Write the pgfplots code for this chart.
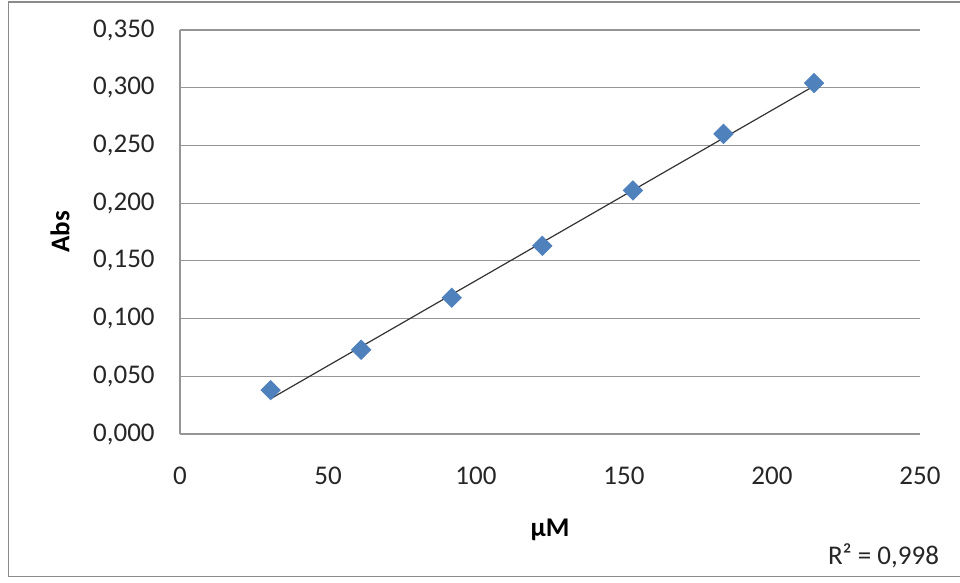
\documentclass[border=0pt]{standalone}
\usepackage{pgfplots}
\pgfplotsset{compat=1.18}
\usepackage{fontspec}
\setmainfont{Carlito}
\definecolor{ptblue}{HTML}{4F81BD}
\definecolor{gridgray}{HTML}{959595}
\definecolor{framegray}{HTML}{8A8A8A}
\begin{document}
\begin{tikzpicture}
\path[use as bounding box] (0,0) rectangle (480pt,291.5pt);
\draw[framegray, line width=0.9pt] (482pt,290.6pt) -- (4.2pt,290.6pt) -- (4.2pt,3.2pt) -- (482pt,3.2pt);
\begin{axis}[
  at={(90pt,74.5pt)}, anchor=south west,
  scale only axis, width=370pt, height=202pt,
  xmin=0, xmax=250, ymin=0, ymax=0.35,
  xtick={0,50,100,150,200,250},
  ytick={0,0.05,0.1,0.15,0.2,0.25,0.3,0.35},
  axis lines*=left,
  axis line style={gridgray, line width=0.6pt, -},
  ymajorgrids, grid style={gridgray, line width=0.6pt},
  major tick length=0pt,
  tick label style={font=\fontsize{13.5}{16}\selectfont, text=black!85},
  yticklabel style={anchor=east, inner sep=0pt, xshift=-12.5pt,
    /pgf/number format/.cd, fixed, fixed zerofill, precision=3, use comma},
  xticklabel style={anchor=center, inner sep=0pt, yshift=-21pt},
  /pgf/number format/assume math mode=true,
  clip=false,
]
\addplot[only marks, mark=square*, mark size=3.4pt, mark options={rotate=45, fill=ptblue, draw=ptblue}]
  coordinates {(30.6,0.038) (61.2,0.073) (91.8,0.118) (122.4,0.163) (153.0,0.211) (183.6,0.260) (214.2,0.304)};
\addplot[black!80, line width=0.6pt] coordinates {(30.6,0.0305) (214.2,0.3015)};
\node[font=\fontsize{13.5}{16}\selectfont\bfseries, rotate=90, anchor=center] at ([xshift=-60pt]axis description cs:0,0.5) {Abs};
\node[font=\fontsize{13.5}{16}\selectfont\bfseries, anchor=center] at ([yshift=-48pt]axis description cs:0.5,0) {µM};
\node[font=\fontsize{13.5}{16}\selectfont, anchor=base east, text=black!85] at ([xshift=13pt, yshift=-65.5pt]axis description cs:1,0) {R² = 0,998};
\end{axis}
\end{tikzpicture}
\end{document}
